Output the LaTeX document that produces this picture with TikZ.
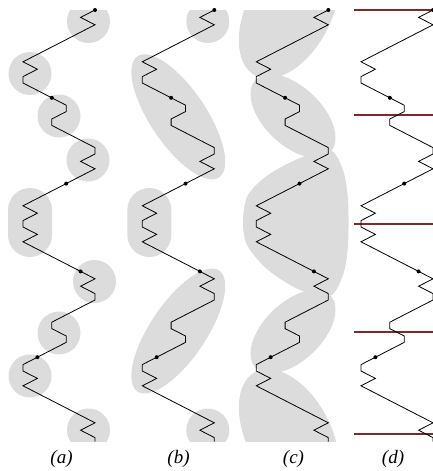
\documentclass[tikz,border=0pt]{standalone}
\usepackage{fontspec}
\setmainfont{Liberation Serif}
\usetikzlibrary{positioning}
\definecolor{blobgrey}{HTML}{DCDCDC}
\definecolor{cutred}{HTML}{7A2A2A}
\tikzset{
  chain/.style={draw=black, line width=0.8pt, line join=miter},
  blob/.style={fill=blobgrey},
  cutline/.style={draw=cutred, line width=1.8pt},
  vertex/.style={circle, fill=black, inner sep=0pt, minimum size=4pt},
  caption/.style={font=\fontsize{19}{22}\selectfont\itshape},
}

\begin{document}
\begin{tikzpicture}[x=1pt, y=-1pt]
\clip (0,0) rectangle (433,471);

% grey covers, cut at the top and bottom of the chain
\begin{scope}
  \clip (0,10) rectangle (433,441.7);
  % (a) one disc per kink
  \fill[blob] (88.5,21.5) circle[radius=21.5];
  \fill[blob] (30,73.5) circle[radius=21.5];
  \fill[blob] (59,116) circle[radius=21.5];
  \fill[blob] (88,160) circle[radius=21.5];
  \fill[blob, rounded corners=22pt] (8,188) rectangle (52,257);
  \fill[blob] (94.5,281.5) circle[radius=21.5];
  \fill[blob] (59,333) circle[radius=21.5];
  \fill[blob] (30,376) circle[radius=21.5];
  \fill[blob] (88.5,430) circle[radius=21.5];
  % (b) merged kinks
  \fill[blob] (207.8,21.5) circle[radius=21.5];
  \fill[blob, rotate around={-56:(178.3,116.8)}] (178.3,116.8) ellipse[x radius=73, y radius=28];
  \fill[blob, rounded corners=22pt] (127.3,188) rectangle (171.3,257);
  \fill[blob, rotate around={56:(178.3,331)}] (178.3,331) ellipse[x radius=73, y radius=28];
  \fill[blob] (207.8,430) circle[radius=21.5];
  % (c) large pieces
  \fill[blob, rotate around={-28:(289,12)}] (289,12) ellipse[x radius=42, y radius=72];
  \fill[blob, rotate around={-44:(293,116)}] (293,116) ellipse[x radius=52, y radius=29];
  \fill[blob] plot[smooth cycle] coordinates {(330,150) (343,170) (348,200) (348,245)
    (343,275) (330,296) (300,290) (268,270) (247,245) (243,220) (248,195) (268,175) (300,158)};
  \fill[blob, rotate around={44:(293,331.6)}] (293,331.6) ellipse[x radius=52, y radius=29];
  \fill[blob, rotate around={28:(289,435.6)}] (289,435.6) ellipse[x radius=42, y radius=72];
\end{scope}

% (d) cuts
\draw[cutline] (354,10) -- (433,10);
\draw[cutline] (354,115) -- (433,115);
\draw[cutline] (354,224) -- (433,224);
\draw[cutline] (354,332) -- (433,332);
\draw[cutline] (354,434) -- (433,434);

% the same chain in every panel
\foreach \dx/\nm in {0/a, 119.3/b, 233.3/c, 338/d}{
  \begin{scope}[xshift=\dx pt]
    \draw[chain] (95,10) -- (80.6,17.4) -- (95,24.8) -- (23,61.8) -- (37.4,69.2)
      -- (23,76.6) -- (23,83) -- (66.2,105.2) -- (66.2,111.6) -- (51.8,119)
      -- (51.8,125.4) -- (95,147.6) -- (95,154) -- (80.6,161.4) -- (95,168.8)
      -- (23,205.8) -- (37.4,213.2) -- (23,220.6) -- (23,227) -- (37.4,234.4)
      -- (23,241.8) -- (95,278.8) -- (80.6,286.2) -- (95,293.6) -- (95,300)
      -- (51.8,322.2) -- (51.8,328.6) -- (66.2,336) -- (66.2,342.4) -- (23,364.6)
      -- (23,371) -- (37.4,378.4) -- (23,385.8) -- (95,422.8) -- (80.6,430.2)
      -- (95,437.6) -- (95,441.7);
    \node[vertex] (v\nm1) at (95,10) {};
    \node[vertex] (v\nm2) at (51.8,97.8) {};
    \node[vertex] (v\nm3) at (66.2,183.6) {};
    \node[vertex] (v\nm4) at (80.6,271.4) {};
    \node[vertex] (v\nm5) at (37.4,357.2) {};
  \end{scope}
}

\node[caption] (capa) at (61.5,459) {(a)};
\node[caption] (capb) at (178.5,459) {(b)};
\node[caption] (capc) at (293.5,459) {(c)};
\node[caption] (capd) at (393,459) {(d)};

\end{tikzpicture}
\end{document}
